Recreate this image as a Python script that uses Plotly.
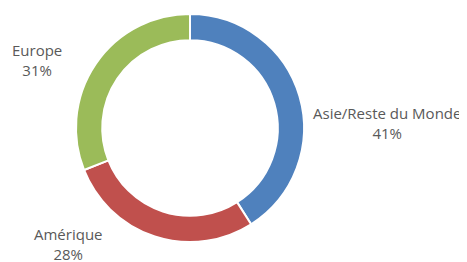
import plotly.graph_objects as go

regions = ["Asie/Reste du Monde", "Amérique", "Europe"]
shares = [41, 28, 31]
colors = ["#4F81BD", "#C0504D", "#9BBB59"]

W, H = 467, 262
off = 8  # page body margin
cx, cy, r = 190 - off, 128 - off, 114

fig = go.Figure(go.Pie(
    labels=regions, values=shares, hole=0.77, sort=False,
    direction="clockwise", rotation=0, textinfo="none",
    marker=dict(colors=colors, line=dict(color="white", width=2)),
    domain=dict(x=[(cx - r) / W, (cx + r) / W], y=[1 - (cy + r) / H, 1 - (cy - r) / H]),
    showlegend=False, hoverinfo="label+percent",
))

label_pos = {"Asie/Reste du Monde": (387, 123), "Amérique": (69, 244), "Europe": (37, 60)}
for name, val in zip(regions, shares):
    x, y = label_pos[name]
    fig.add_annotation(x=(x - off) / W, y=1 - (y - off) / H, xref="paper", yref="paper",
                       xanchor="center", yanchor="middle",
                       text=f"{name}<br>{val}%", showarrow=False, align="center",
                       font=dict(family="Open Sans, Liberation Sans, sans-serif", size=15, color="#595959"))

fig.update_layout(width=W, height=H, margin=dict(l=0, r=0, t=0, b=0),
                  paper_bgcolor="white", plot_bgcolor="white")
fig.write_html("out.html")
